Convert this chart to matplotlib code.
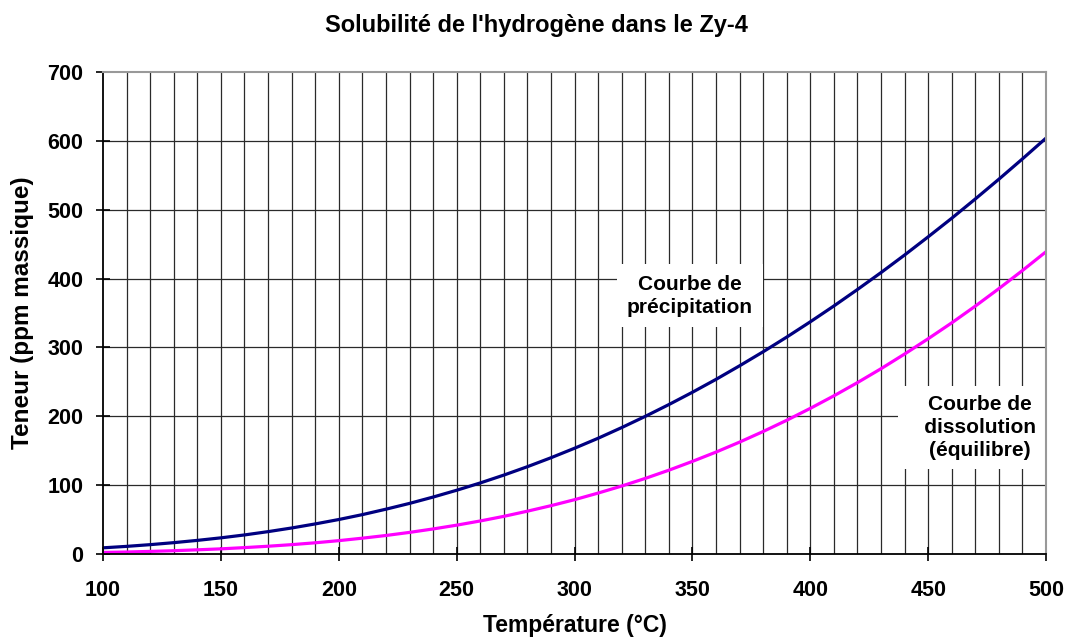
import matplotlib
matplotlib.use("Agg")
import matplotlib.pyplot as plt
import numpy as np

plt.rcParams['font.family'] = ['Liberation Sans', 'DejaVu Sans']

# température (°C), pas de 10
temperature = [100, 110, 120, 130, 140, 150, 160, 170, 180, 190,
               200, 210, 220, 230, 240, 250, 260, 270, 280, 290,
               300, 310, 320, 330, 340, 350, 360, 370, 380, 390,
               400, 410, 420, 430, 440, 450, 460, 470, 480, 490, 500]

# courbe de précipitation (ppm massique)
precipitation = [9.0, 11.1, 13.6, 16.5, 19.8, 23.5, 27.7, 32.5, 37.8, 43.7,
                 50.1, 57.2, 65.1, 73.5, 82.7, 92.6, 103.2, 114.6, 126.8, 139.8,
                 153.6, 168.1, 183.6, 199.9, 217.0, 234.9, 253.6, 273.3, 293.7, 315.0,
                 337.2, 360.2, 384.1, 408.7, 434.2, 460.6, 487.6, 515.6, 544.3, 573.8, 604.0]

# courbe de dissolution (équilibre)
dissolution = [2.3, 2.9, 3.8, 4.8, 6.1, 7.5, 9.3, 11.3, 13.6, 16.3,
               19.4, 23.0, 26.9, 31.4, 36.4, 41.9, 48.0, 54.7, 62.2, 70.2,
               78.9, 88.5, 98.7, 109.8, 121.7, 134.5, 148.0, 162.5, 177.9, 194.2,
               211.5, 229.7, 248.9, 269.1, 290.4, 312.6, 335.7, 360.0, 385.4, 411.7, 439.0]

x_ticks = [100, 150, 200, 250, 300, 350, 400, 450, 500]
y_ticks = [0, 100, 200, 300, 400, 500, 600, 700]

fig = plt.figure(figsize=(10.7, 6.41), dpi=100)
ax = fig.add_axes([0.0963, 0.1357, 0.8813, 0.752])

ax.set_xlim(100, 500)
ax.set_ylim(0, 700)

# grille
for xv in range(110, 500, 10):
    ax.axvline(xv, color='#2a2a2a', lw=0.9, zorder=1)
for yv in y_ticks[1:-1]:
    ax.axhline(yv, color='#2a2a2a', lw=0.9, zorder=1)

ax.plot(temperature, precipitation, color='#000080', lw=2.3, zorder=3)
ax.plot(temperature, dissolution, color='#FF00FF', lw=2.3, zorder=3)

ax.text(349, 375, "Courbe de\nprécipitation", ha='center', va='center',
        fontsize=15, fontweight='bold', linespacing=1.25, zorder=4,
        bbox=dict(facecolor='white', edgecolor='none', boxstyle='square,pad=0.5'))
ax.text(472, 184, "Courbe de\n   dissolution   \n(équilibre)", ha='center', va='center',
        fontsize=15, fontweight='bold', linespacing=1.25, zorder=4, clip_on=False,
        bbox=dict(facecolor='white', edgecolor='none', boxstyle='square,pad=0.45'))

ax.set_xticks(x_ticks)
ax.set_yticks(y_ticks)
ax.tick_params(direction='inout', length=10, width=1.2, labelsize=15.5)
ax.tick_params(axis='x', pad=14)
ax.tick_params(axis='y', pad=9)
for lab in ax.get_xticklabels() + ax.get_yticklabels():
    lab.set_fontweight('bold')

ax.spines['left'].set_color('black')
ax.spines['bottom'].set_color('black')
ax.spines['left'].set_linewidth(1.3)
ax.spines['bottom'].set_linewidth(1.3)
ax.spines['top'].set_color('#999999')
ax.spines['right'].set_color('#999999')
ax.spines['top'].set_linewidth(1.5)
ax.spines['right'].set_linewidth(1.5)
for s in ax.spines.values():
    s.set_zorder(5)

ax.set_xlabel("Température (°C)", fontsize=16.5, fontweight='bold', labelpad=9)
ax.set_ylabel("Teneur (ppm massique)", fontsize=17.5, fontweight='bold', labelpad=10)
fig.suptitle("Solubilité de l'hydrogène dans le Zy-4", fontsize=17, fontweight='bold',
             x=0.501, y=0.978)

fig.savefig("out.png", dpi=100)
